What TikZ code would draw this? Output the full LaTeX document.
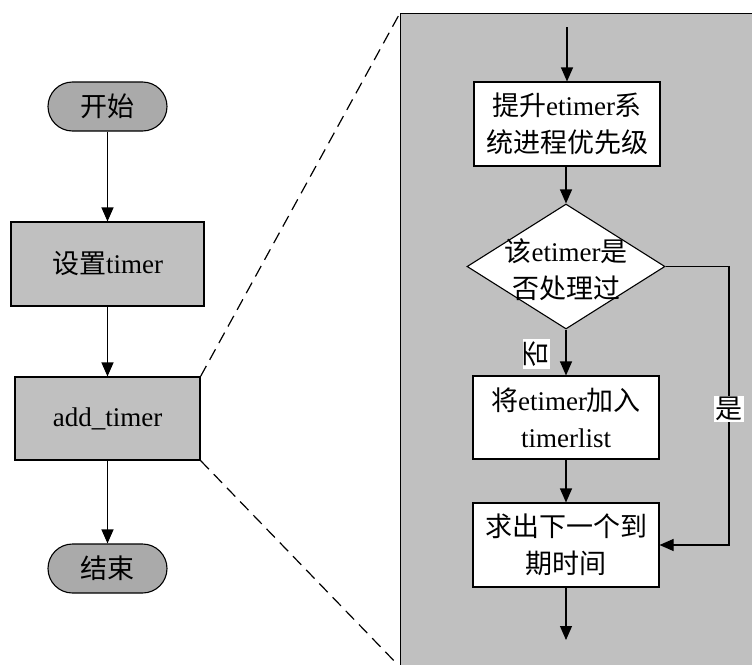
\documentclass[tikz,border=0pt]{standalone}
\usepackage{fontspec}
\setmainfont{Liberation Serif}
\newfontfamily\zh{Noto Sans CJK SC}
\usetikzlibrary{arrows.meta,shapes.geometric}
\definecolor{boxgray}{HTML}{C0C0C0}
\definecolor{termgray}{HTML}{AAAAAA}
\tikzset{
  every node/.style={font=\fontsize{27}{37}\selectfont, align=center},
  flow/.style={line width=1.1pt, -{Triangle[width=12pt,length=14pt]}},
  term/.style={draw, line width=1.1pt, fill=termgray, rounded corners=24.5pt,
    minimum width=119pt, minimum height=49pt, inner sep=0pt},
  graybox/.style={draw, line width=1.1pt, fill=boxgray, minimum height=84pt, inner sep=0pt},
  whitebox/.style={draw, line width=1.1pt, fill=white, minimum width=186pt, minimum height=84pt, inner sep=0pt},
  decision/.style={draw, line width=1.1pt, fill=white, diamond, minimum width=198pt,
    minimum height=125pt, inner sep=0pt},
  tag/.style={fill=white, inner sep=1.5pt},
  zoomline/.style={line width=1.2pt, dash pattern=on 12pt off 7pt},
  panelbox/.style={draw, line width=1.1pt, fill=boxgray, anchor=north west,
    minimum width=370pt, minimum height=670pt, inner sep=0pt}
}
\begin{document}
\begin{tikzpicture}[x=1pt, y=-1pt]
\useasboundingbox (0,0) rectangle (752,664);
\clip (0,0) rectangle (752,664);

% detail panel
\node[panelbox] (panel) at (400,13) {};
\coordinate (pbl) at (400,667);

% main flow
\node[term] (start) at (107.5,106.5) {{\zh 开始}};
\node[graybox, minimum width=193pt] (set) at (107.5,264) {{\zh 设置}timer};
\node[graybox, minimum width=185pt, minimum height=83pt] (add) at (107.5,418.5) {add\_timer};
\node[term] (end) at (107.5,568.5) {{\zh 结束}};

\draw[flow] (start) -- (set);
\draw[flow] (set) -- (add);
\draw[flow] (add) -- (end);

% zoom lines
\draw[zoomline] (add.north east) -- (panel.north west);
\draw[zoomline] (add.south east) -- (pbl);

% detail flow
\coordinate (in) at (567,27);
\node[whitebox] (raise) at (567,124) {{\zh 提升}etimer{\zh 系}\\{\zh 统进程优先级}};
\node[decision] (check) at (566,266.5) {};
\node (checktext) at (566,269.5) {{\zh 该}etimer{\zh 是}\\{\zh 否处理过}};
\node[whitebox, minimum height=83pt] (addlist) at (566,417.5) {{\zh 将}etimer{\zh 加入}\\timerlist};
\node[whitebox] (next) at (566,545) {{\zh 求出下一个到}\\{\zh 期时间}};
\coordinate (out) at (566,640);
\coordinate (yesx) at (729,0);

\draw[flow] (in) -- (raise);
\draw[flow] (raise.south -| check.north) -- (check.north);
\draw[flow] (check.south) -- (addlist.north);
\draw[flow] (addlist) -- (next);
\draw[flow] (next) -- (out);
\draw[flow] (check.east) -- (check.east -| yesx) |- (next.east);

\node[tag, rotate=90] (no) at (536.5,353.5) {{\zh 否}};
\node[tag] (yes) at (729,409) {{\zh 是}};
\end{tikzpicture}
\end{document}
